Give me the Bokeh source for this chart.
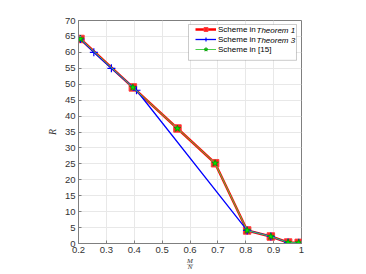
from bokeh.plotting import figure
from bokeh.models import Range1d, FixedTicker, Legend, LegendItem, Label, BoxAnnotation
from bokeh.embed import file_html
from bokeh.resources import INLINE

# ---- data ----
ratio_t1 = [0.207, 0.395, 0.555, 0.69, 0.805, 0.89, 0.952, 0.99]
rate_t1 = [64.2, 49.0, 36.1, 25.2, 4.1, 2.2, 0.3, 0.2]
ratio_t3 = [0.207, 0.255, 0.318, 0.408, 0.805, 0.89, 0.952, 0.99]
rate_t3 = [64.2, 60.0, 55.0, 48.1, 4.1, 2.2, 0.3, 0.2]
ratio_15 = [0.207, 0.395, 0.555, 0.69, 0.805, 0.89, 0.952, 0.99]
rate_15 = [64.2, 49.0, 36.1, 25.2, 4.1, 2.2, 0.3, 0.2]

x_ticks = [0.2, 0.3, 0.4, 0.5, 0.6, 0.7, 0.8, 0.9, 1.0]
x_tick_labels = ["0.2", "0.3", "0.4", "0.5", "0.6", "0.7", "0.8", "0.9", "1"]
y_ticks = [0, 5, 10, 15, 20, 25, 30, 35, 40, 45, 50, 55, 60, 65, 70]

legend_labels = ["Scheme in ", "Scheme in ", "Scheme in [15]"]
legend_italic = ["Theorem 1", "Theorem 3"]
x_label = "M\n\u2014\nN"
y_label = "R"

FONT = "Liberation Sans"
AX_COL = "#7f7f7f"
TXT_COL = "#333333"

p = figure(width=366, height=274, output_backend="svg", toolbar_location=None,
           x_range=Range1d(0.2, 1.0), y_range=Range1d(0, 70),
           min_border_left=78, min_border_right=65, min_border_top=20, min_border_bottom=30)
p.background_fill_color = "white"
p.border_fill_color = "white"
p.outline_line_color = AX_COL
p.outline_line_width = 1

for ax, ticks in ((p.xaxis[0], x_ticks), (p.yaxis[0], y_ticks)):
    ax.ticker = FixedTicker(ticks=ticks)
    ax.major_tick_in = 3
    ax.major_tick_out = 0
    ax.minor_tick_line_color = None
    ax.axis_line_color = AX_COL
    ax.major_tick_line_color = AX_COL
    ax.major_label_text_font = FONT
    ax.major_label_text_font_size = "9.5px"
    ax.major_label_text_color = TXT_COL
    ax.major_label_standoff = 3
    ax.axis_label_text_font = "Liberation Serif"
    ax.axis_label_text_font_style = "italic"
    ax.axis_label_text_color = TXT_COL
p.xaxis[0].major_label_overrides = {t: l for t, l in zip(x_ticks, x_tick_labels)}

p.yaxis[0].axis_label = y_label
p.yaxis[0].axis_label_text_font_size = "10px"
p.yaxis[0].axis_label_standoff = 4

p.xaxis[0].axis_label = x_label
p.xaxis[0].axis_label_text_font_size = "7px"
p.xaxis[0].axis_label_text_line_height = 0.43
p.xaxis[0].axis_label_standoff = 1

p.xgrid.ticker = FixedTicker(ticks=x_ticks)
p.ygrid.ticker = FixedTicker(ticks=y_ticks)
p.grid.grid_line_color = "#e8e8e8"
p.grid.grid_line_width = 1

# ---- series ----
r1l = p.line(ratio_t1, rate_t1, line_color="#ff0000", line_width=2.5)
r1m = p.scatter(ratio_t1, rate_t1, marker="square", size=7.5, fill_color="#ff2020",
                line_color="#ff4040", line_width=1)
r3l = p.line(ratio_t3, rate_t3, line_color="#0000ff", line_width=1.3)
r3m = p.scatter(ratio_t3, rate_t3, marker="cross", size=8, line_color="#0000ff", line_width=1.2)
r5l = p.line(ratio_15, rate_15, line_color="#4ccc4c", line_width=1)
r5m = p.scatter(ratio_15, rate_15, marker="star", size=7, fill_color="#00ee00",
                line_color="#009900", line_width=0.8)

# legend frame (white box behind the transparent legend so that italic parts show)
p.add_layout(BoxAnnotation(left=0.5946, right=0.982, top=68.75, bottom=57.5,
                           fill_color="white", fill_alpha=1,
                           line_color="#262626", line_width=0.8, level="annotation"))

for txt, yy in zip(legend_italic, [213, 203]):
    p.add_layout(Label(x=178, y=yy, x_units="screen", y_units="screen", text=txt,
                       text_font=FONT, text_font_size="8px", level="annotation",
                       text_font_style="italic", text_baseline="middle", text_align="left",
                       text_color="#000000"))

legend = Legend(items=[
    LegendItem(label=legend_labels[0], renderers=[r1l, r1m]),
    LegendItem(label=legend_labels[1], renderers=[r3l, r3m]),
    LegendItem(label=legend_labels[2], renderers=[r5l, r5m]),
], location="top_right")
legend.margin = 4
legend.padding = 3
legend.spacing = 0
legend.glyph_width = 21
legend.glyph_height = 10
legend.label_height = 10
legend.label_width = 79
legend.label_standoff = 2
legend.label_text_font = FONT
legend.label_text_font_size = "8px"
legend.label_text_color = "#000000"
legend.border_line_color = None
legend.background_fill_alpha = 0
p.add_layout(legend, "center")

open("out.html", "w").write(file_html(p, INLINE))
